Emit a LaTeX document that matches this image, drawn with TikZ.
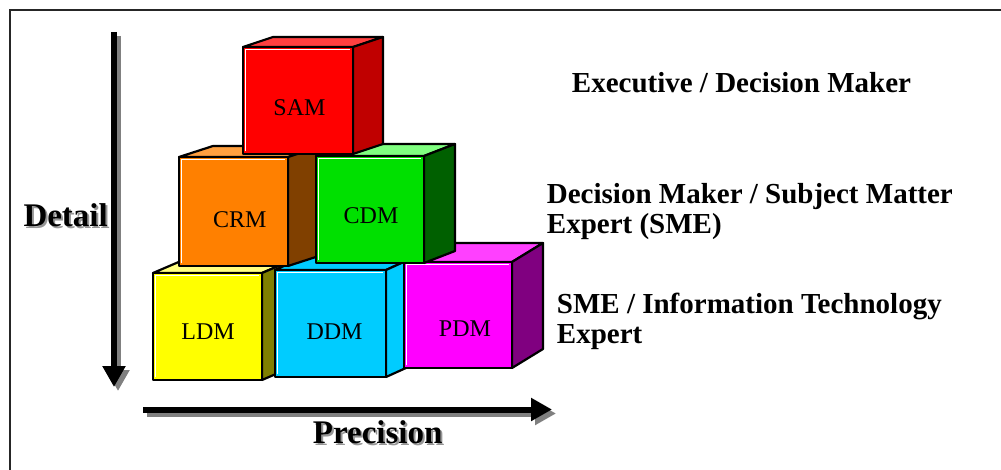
\documentclass[tikz,border=0pt]{standalone}
\usepackage{fontspec}
\setmainfont{Liberation Serif}
\usetikzlibrary{calc,arrows.meta}
\definecolor{samF}{RGB}{255,0,0}\definecolor{samT}{RGB}{255,64,64}\definecolor{samS}{RGB}{192,0,0}
\definecolor{crmF}{RGB}{255,128,0}\definecolor{crmT}{RGB}{255,160,64}\definecolor{crmS}{RGB}{128,64,0}
\definecolor{cdmF}{RGB}{0,224,0}\definecolor{cdmT}{RGB}{128,255,128}\definecolor{cdmS}{RGB}{0,96,0}
\definecolor{ldmF}{RGB}{255,255,0}\definecolor{ldmT}{RGB}{255,255,128}\definecolor{ldmS}{RGB}{128,128,0}
\definecolor{ddmF}{RGB}{0,204,255}\definecolor{ddmT}{RGB}{0,204,255}\definecolor{ddmS}{RGB}{0,204,255}
\definecolor{pdmF}{RGB}{255,0,255}\definecolor{pdmT}{RGB}{255,64,255}\definecolor{pdmS}{RGB}{128,0,128}
\definecolor{shadowgray}{RGB}{128,128,128}
\definecolor{textshadow}{RGB}{150,150,150}
\tikzset{
  cubeline/.style={draw=black, line width=2.2pt, line join=round},
  bevel/.style={draw=white, line width=1pt},
  cubelabel/.style={font=\fontsize{24}{26}\selectfont, inner sep=0pt, anchor=base},
  roletext/.style={font=\bfseries\fontsize{29}{30}\selectfont, inner sep=0pt, anchor=base west},
  axistext/.style={font=\bfseries\fontsize{33}{36}\selectfont, inner sep=0pt, anchor=base west},
  bigarrow/.style={line width=6pt, -{Triangle[width=22pt,length=21pt]}},
}
\newcommand\shadowtext[1]{\makebox[0pt][l]{\kern2pt\raisebox{-2pt}{\textcolor{textshadow}{#1}}}#1}
\newcommand\mycube[8]{%
  \path (#2,#3) coordinate (#1-tl) (#4,#3) coordinate (#1-tr)
        (#4,#5) coordinate (#1-br) (#2,#5) coordinate (#1-bl);
  \path ($(#1-tl)+(#6,#7)$) coordinate (#1-btl)
        ($(#1-tr)+(#6,#7)$) coordinate (#1-btr)
        ($(#1-br)+(#6,#7)$) coordinate (#1-bbr);
  \filldraw[cubeline, fill=#8T] (#1-tl) -- (#1-btl) -- (#1-btr) -- (#1-tr) -- cycle;
  \filldraw[cubeline, fill=#8S] (#1-tr) -- (#1-btr) -- (#1-bbr) -- (#1-br) -- cycle;
  \filldraw[cubeline, fill=#8F] (#1-tl) rectangle (#1-br);
  \draw[bevel] ($(#1-bl)+(2.6,-2.6)$) -- ($(#1-tl)+(2.6,2.6)$) -- ($(#1-tr)+(-2.6,2.6)$);
}
\begin{document}
\begin{tikzpicture}[x=1pt,y=-1pt]
\useasboundingbox (0,0) rectangle (1001,470);
\fill[white] (0,0) rectangle (1001,470);
% frame
\draw[line width=1.5pt, black!85] (10,470) -- (10,10) -- (1001,10);
% axes
\coordinate (dtop) at (114,32);
\coordinate (dbot) at (114,387);
\coordinate (pleft) at (143,409.5);
\coordinate (pright) at (552,409.5);
\draw[bigarrow, shadowgray] ($(dtop)+(4,4)$) -- ($(dbot)+(4,4)$);
\draw[bigarrow, black] (dtop) -- (dbot);
\draw[bigarrow, shadowgray] ($(pleft)+(4,4)$) -- ($(pright)+(4,4)$);
\draw[bigarrow, black] (pleft) -- (pright);
% axis labels
\node[axistext] (detail) at (23.3,226.7) {\shadowtext{Detail}};
\node[axistext] (prec) at (312.7,443.3) {\shadowtext{Precision}};
% cubes, back to front
\mycube{ldm}{153}{273}{262}{380}{28}{-12}{ldm}
\mycube{ddm}{275}{270}{386}{377}{31}{-14}{ddm}
\mycube{pdm}{404}{262}{512}{368}{31}{-19}{pdm}
\mycube{crm}{179}{157}{288}{266}{34}{-11}{crm}
\mycube{cdm}{316}{156}{424}{263}{31}{-12}{cdm}
\mycube{sam}{243}{47}{353}{154}{30}{-10}{sam}
% cube labels
\node[cubelabel] (samlabel) at (299.5,116) {SAM};
\node[cubelabel] (crmlabel) at (239.7,227.7) {CRM};
\node[cubelabel] (cdmlabel) at (371,223.3) {CDM};
\node[cubelabel] (ldmlabel) at (208,339.3) {LDM};
\node[cubelabel] (ddmlabel) at (334.5,339.3) {DDM};
\node[cubelabel] (pdmlabel) at (465,336) {PDM};
% roles
\node[roletext] (exec) at (571.7,92.3) {Executive / Decision Maker};
\node[roletext] (dm) at (546.7,203.3) {\begin{tabular}[t]{@{}l@{}}Decision Maker / Subject Matter\\Expert (SME)\end{tabular}};
\node[roletext] (sme) at (556.7,313.3) {\begin{tabular}[t]{@{}l@{}}SME / Information Technology\\Expert\end{tabular}};
\end{tikzpicture}
\end{document}
